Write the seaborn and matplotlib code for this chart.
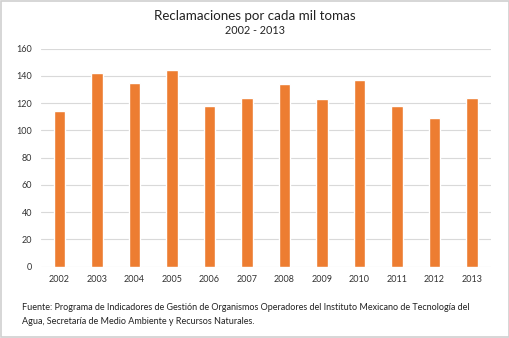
import matplotlib
matplotlib.use("Agg")
import matplotlib.pyplot as plt
import seaborn as sns
import pandas as pd

years = ["2002", "2003", "2004", "2005", "2006", "2007",
         "2008", "2009", "2010", "2011", "2012", "2013"]
reclamaciones = [114, 142, 135, 144, 118, 124, 134, 123, 137, 118, 109, 124]
y_ticks = [0, 20, 40, 60, 80, 100, 120, 140, 160]

sns.set_theme(style="white")
plt.rcParams["font.family"] = ["Lato", "DejaVu Sans"]

df = pd.DataFrame({"anio": years, "valor": reclamaciones})

fig = plt.figure(figsize=(5.10, 3.38), dpi=100)
ax = fig.add_axes([40.7 / 510, 1 - 266.7 / 338, 450 / 510, 218 / 338])

sns.barplot(data=df, x="anio", y="valor", color="#ED7D31", saturation=1,
            width=0.3, ax=ax)

ax.set_ylim(0, 160)
ax.set_yticks(y_ticks)
ax.set_xlim(-0.5, len(years) - 0.5)
ax.yaxis.grid(True, color="#D9D9D9", linewidth=0.8)
ax.set_axisbelow(True)
for s in ax.spines.values():
    s.set_visible(False)
ax.tick_params(axis="both", length=0, labelsize=6.5, colors="#333333", pad=6)
ax.set_xlabel("")
ax.set_ylabel("")

fig.text(0.5, 1 - 16 / 338, "Reclamaciones por cada mil tomas", ha="center",
         va="center", fontsize=9.6, color="#222222")
fig.text(0.5, 1 - 31 / 338, "2002 - 2013", ha="center", va="center",
         fontsize=7.8, color="#222222")

fig.text(22 / 510, 1 - 308 / 338,
         "Fuente: Programa de Indicadores de Gestión de Organismos Operadores del Instituto Mexicano de Tecnología del",
         ha="left", va="center", fontsize=6.5, color="#222222")
fig.text(22 / 510, 1 - 322 / 338,
         "Agua, Secretaría de Medio Ambiente y Recursos Naturales.",
         ha="left", va="center", fontsize=6.5, color="#222222")

# thin frame around the figure
fig.patches.append(plt.Rectangle((0.001, 0.002), 0.997, 0.995, transform=fig.transFigure,
                                 fill=False, edgecolor="#D0D0D0", linewidth=1.2))

fig.savefig("out.png", dpi=100)
